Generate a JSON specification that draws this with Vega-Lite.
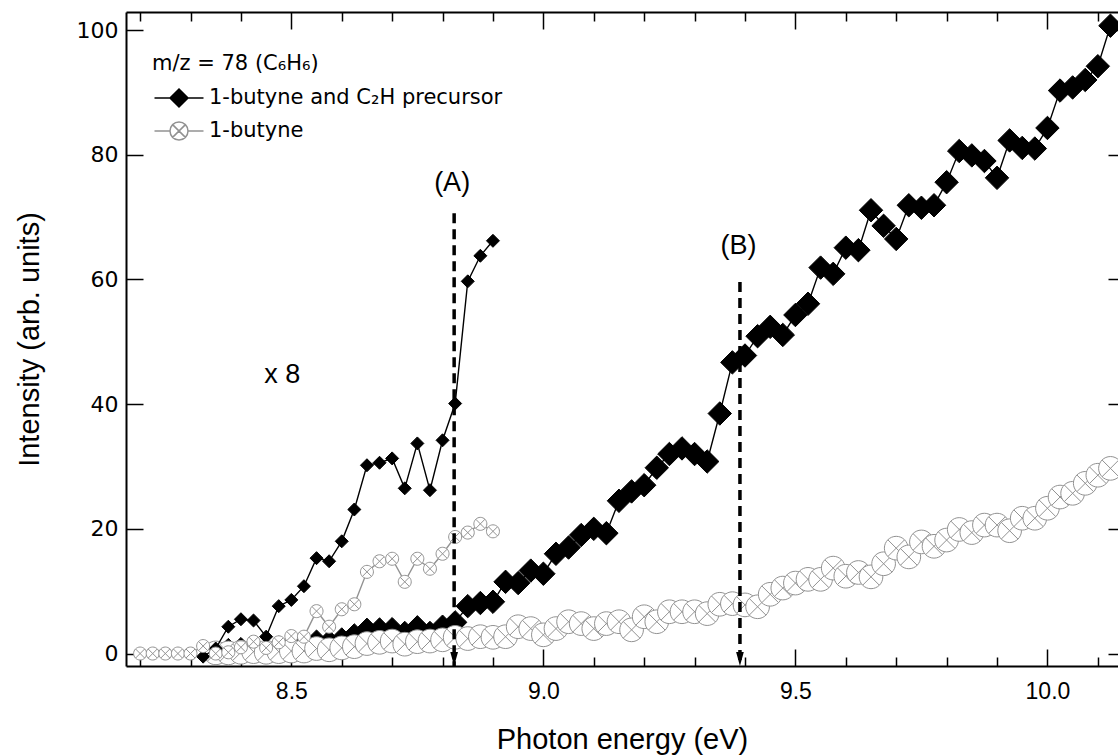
{
  "$schema": "https://vega.github.io/schema/vega-lite/v6.json",
  "width": 992,
  "height": 654,
  "autosize": {"type": "none"},
  "padding": {"left": 126, "top": 12, "right": 0, "bottom": 90},
  "background": "white",
  "config": {"view": {"stroke": null}, "axis": {"grid": false}, "legend": {"disable": true}},
  "datasets": {
    "main": [
      {"energy": 8.35, "intensity": 0.1, "series": "1-butyne and C₂H precursor"},
      {"energy": 8.375, "intensity": 0.55, "series": "1-butyne and C₂H precursor"},
      {"energy": 8.4, "intensity": 0.7, "series": "1-butyne and C₂H precursor"},
      {"energy": 8.425, "intensity": 0.65, "series": "1-butyne and C₂H precursor"},
      {"energy": 8.45, "intensity": 0.35, "series": "1-butyne and C₂H precursor"},
      {"energy": 8.475, "intensity": 0.95, "series": "1-butyne and C₂H precursor"},
      {"energy": 8.5, "intensity": 1.1, "series": "1-butyne and C₂H precursor"},
      {"energy": 8.525, "intensity": 1.35, "series": "1-butyne and C₂H precursor"},
      {"energy": 8.55, "intensity": 1.9, "series": "1-butyne and C₂H precursor"},
      {"energy": 8.575, "intensity": 1.85, "series": "1-butyne and C₂H precursor"},
      {"energy": 8.6, "intensity": 2.25, "series": "1-butyne and C₂H precursor"},
      {"energy": 8.625, "intensity": 2.9, "series": "1-butyne and C₂H precursor"},
      {"energy": 8.65, "intensity": 3.8, "series": "1-butyne and C₂H precursor"},
      {"energy": 8.675, "intensity": 3.85, "series": "1-butyne and C₂H precursor"},
      {"energy": 8.7, "intensity": 3.9, "series": "1-butyne and C₂H precursor"},
      {"energy": 8.725, "intensity": 3.3, "series": "1-butyne and C₂H precursor"},
      {"energy": 8.75, "intensity": 4.2, "series": "1-butyne and C₂H precursor"},
      {"energy": 8.775, "intensity": 3.3, "series": "1-butyne and C₂H precursor"},
      {"energy": 8.8, "intensity": 4.3, "series": "1-butyne and C₂H precursor"},
      {"energy": 8.825, "intensity": 5.0, "series": "1-butyne and C₂H precursor"},
      {"energy": 8.85, "intensity": 7.6, "series": "1-butyne and C₂H precursor"},
      {"energy": 8.875, "intensity": 8.1, "series": "1-butyne and C₂H precursor"},
      {"energy": 8.9, "intensity": 8.3, "series": "1-butyne and C₂H precursor"},
      {"energy": 8.925, "intensity": 11.5, "series": "1-butyne and C₂H precursor"},
      {"energy": 8.95, "intensity": 11.3, "series": "1-butyne and C₂H precursor"},
      {"energy": 8.975, "intensity": 13.3, "series": "1-butyne and C₂H precursor"},
      {"energy": 9.0, "intensity": 12.8, "series": "1-butyne and C₂H precursor"},
      {"energy": 9.025, "intensity": 16.0, "series": "1-butyne and C₂H precursor"},
      {"energy": 9.05, "intensity": 17.0, "series": "1-butyne and C₂H precursor"},
      {"energy": 9.075, "intensity": 19.0, "series": "1-butyne and C₂H precursor"},
      {"energy": 9.1, "intensity": 20.0, "series": "1-butyne and C₂H precursor"},
      {"energy": 9.125, "intensity": 19.3, "series": "1-butyne and C₂H precursor"},
      {"energy": 9.15, "intensity": 24.5, "series": "1-butyne and C₂H precursor"},
      {"energy": 9.175, "intensity": 26.0, "series": "1-butyne and C₂H precursor"},
      {"energy": 9.2, "intensity": 27.0, "series": "1-butyne and C₂H precursor"},
      {"energy": 9.225, "intensity": 29.8, "series": "1-butyne and C₂H precursor"},
      {"energy": 9.25, "intensity": 32.0, "series": "1-butyne and C₂H precursor"},
      {"energy": 9.275, "intensity": 32.9, "series": "1-butyne and C₂H precursor"},
      {"energy": 9.3, "intensity": 32.0, "series": "1-butyne and C₂H precursor"},
      {"energy": 9.325, "intensity": 30.8, "series": "1-butyne and C₂H precursor"},
      {"energy": 9.35, "intensity": 38.5, "series": "1-butyne and C₂H precursor"},
      {"energy": 9.375, "intensity": 46.7, "series": "1-butyne and C₂H precursor"},
      {"energy": 9.4, "intensity": 47.8, "series": "1-butyne and C₂H precursor"},
      {"energy": 9.425, "intensity": 50.9, "series": "1-butyne and C₂H precursor"},
      {"energy": 9.45, "intensity": 52.4, "series": "1-butyne and C₂H precursor"},
      {"energy": 9.475, "intensity": 51.1, "series": "1-butyne and C₂H precursor"},
      {"energy": 9.5, "intensity": 54.3, "series": "1-butyne and C₂H precursor"},
      {"energy": 9.525, "intensity": 56.1, "series": "1-butyne and C₂H precursor"},
      {"energy": 9.55, "intensity": 61.9, "series": "1-butyne and C₂H precursor"},
      {"energy": 9.575, "intensity": 60.9, "series": "1-butyne and C₂H precursor"},
      {"energy": 9.6, "intensity": 65.1, "series": "1-butyne and C₂H precursor"},
      {"energy": 9.625, "intensity": 64.7, "series": "1-butyne and C₂H precursor"},
      {"energy": 9.65, "intensity": 71.1, "series": "1-butyne and C₂H precursor"},
      {"energy": 9.675, "intensity": 68.6, "series": "1-butyne and C₂H precursor"},
      {"energy": 9.7, "intensity": 66.5, "series": "1-butyne and C₂H precursor"},
      {"energy": 9.725, "intensity": 71.9, "series": "1-butyne and C₂H precursor"},
      {"energy": 9.75, "intensity": 71.5, "series": "1-butyne and C₂H precursor"},
      {"energy": 9.775, "intensity": 71.9, "series": "1-butyne and C₂H precursor"},
      {"energy": 9.8, "intensity": 75.6, "series": "1-butyne and C₂H precursor"},
      {"energy": 9.825, "intensity": 80.6, "series": "1-butyne and C₂H precursor"},
      {"energy": 9.85, "intensity": 79.9, "series": "1-butyne and C₂H precursor"},
      {"energy": 9.875, "intensity": 79.0, "series": "1-butyne and C₂H precursor"},
      {"energy": 9.9, "intensity": 76.3, "series": "1-butyne and C₂H precursor"},
      {"energy": 9.925, "intensity": 82.3, "series": "1-butyne and C₂H precursor"},
      {"energy": 9.95, "intensity": 81.1, "series": "1-butyne and C₂H precursor"},
      {"energy": 9.975, "intensity": 81.0, "series": "1-butyne and C₂H precursor"},
      {"energy": 10.0, "intensity": 84.3, "series": "1-butyne and C₂H precursor"},
      {"energy": 10.025, "intensity": 90.3, "series": "1-butyne and C₂H precursor"},
      {"energy": 10.05, "intensity": 90.8, "series": "1-butyne and C₂H precursor"},
      {"energy": 10.075, "intensity": 92.0, "series": "1-butyne and C₂H precursor"},
      {"energy": 10.1, "intensity": 94.2, "series": "1-butyne and C₂H precursor"},
      {"energy": 10.125, "intensity": 100.7, "series": "1-butyne and C₂H precursor"},
      {"energy": 8.35, "intensity": 0.1, "series": "1-butyne"},
      {"energy": 8.375, "intensity": 0.1, "series": "1-butyne"},
      {"energy": 8.4, "intensity": 0.2, "series": "1-butyne"},
      {"energy": 8.425, "intensity": 0.3, "series": "1-butyne"},
      {"energy": 8.45, "intensity": 0.2, "series": "1-butyne"},
      {"energy": 8.475, "intensity": 0.3, "series": "1-butyne"},
      {"energy": 8.5, "intensity": 0.4, "series": "1-butyne"},
      {"energy": 8.525, "intensity": 0.4, "series": "1-butyne"},
      {"energy": 8.55, "intensity": 0.8, "series": "1-butyne"},
      {"energy": 8.575, "intensity": 0.6, "series": "1-butyne"},
      {"energy": 8.6, "intensity": 0.9, "series": "1-butyne"},
      {"energy": 8.625, "intensity": 1.1, "series": "1-butyne"},
      {"energy": 8.65, "intensity": 1.6, "series": "1-butyne"},
      {"energy": 8.675, "intensity": 1.8, "series": "1-butyne"},
      {"energy": 8.7, "intensity": 2.0, "series": "1-butyne"},
      {"energy": 8.725, "intensity": 1.5, "series": "1-butyne"},
      {"energy": 8.75, "intensity": 1.9, "series": "1-butyne"},
      {"energy": 8.775, "intensity": 2.0, "series": "1-butyne"},
      {"energy": 8.8, "intensity": 2.2, "series": "1-butyne"},
      {"energy": 8.825, "intensity": 2.6, "series": "1-butyne"},
      {"energy": 8.85, "intensity": 2.4, "series": "1-butyne"},
      {"energy": 8.875, "intensity": 2.7, "series": "1-butyne"},
      {"energy": 8.9, "intensity": 2.6, "series": "1-butyne"},
      {"energy": 8.925, "intensity": 2.7, "series": "1-butyne"},
      {"energy": 8.95, "intensity": 4.3, "series": "1-butyne"},
      {"energy": 8.975, "intensity": 4.0, "series": "1-butyne"},
      {"energy": 9.0, "intensity": 3.0, "series": "1-butyne"},
      {"energy": 9.025, "intensity": 4.0, "series": "1-butyne"},
      {"energy": 9.05, "intensity": 5.1, "series": "1-butyne"},
      {"energy": 9.075, "intensity": 4.8, "series": "1-butyne"},
      {"energy": 9.1, "intensity": 4.0, "series": "1-butyne"},
      {"energy": 9.125, "intensity": 4.8, "series": "1-butyne"},
      {"energy": 9.15, "intensity": 5.1, "series": "1-butyne"},
      {"energy": 9.175, "intensity": 3.8, "series": "1-butyne"},
      {"energy": 9.2, "intensity": 5.9, "series": "1-butyne"},
      {"energy": 9.225, "intensity": 5.1, "series": "1-butyne"},
      {"energy": 9.25, "intensity": 6.7, "series": "1-butyne"},
      {"energy": 9.275, "intensity": 6.7, "series": "1-butyne"},
      {"energy": 9.3, "intensity": 6.7, "series": "1-butyne"},
      {"energy": 9.325, "intensity": 6.4, "series": "1-butyne"},
      {"energy": 9.35, "intensity": 7.9, "series": "1-butyne"},
      {"energy": 9.375, "intensity": 8.0, "series": "1-butyne"},
      {"energy": 9.4, "intensity": 7.8, "series": "1-butyne"},
      {"energy": 9.425, "intensity": 7.5, "series": "1-butyne"},
      {"energy": 9.45, "intensity": 9.5, "series": "1-butyne"},
      {"energy": 9.475, "intensity": 10.5, "series": "1-butyne"},
      {"energy": 9.5, "intensity": 11.3, "series": "1-butyne"},
      {"energy": 9.525, "intensity": 11.9, "series": "1-butyne"},
      {"energy": 9.55, "intensity": 11.9, "series": "1-butyne"},
      {"energy": 9.575, "intensity": 13.7, "series": "1-butyne"},
      {"energy": 9.6, "intensity": 12.4, "series": "1-butyne"},
      {"energy": 9.625, "intensity": 13.0, "series": "1-butyne"},
      {"energy": 9.65, "intensity": 12.3, "series": "1-butyne"},
      {"energy": 9.675, "intensity": 14.4, "series": "1-butyne"},
      {"energy": 9.7, "intensity": 16.9, "series": "1-butyne"},
      {"energy": 9.725, "intensity": 15.5, "series": "1-butyne"},
      {"energy": 9.75, "intensity": 17.9, "series": "1-butyne"},
      {"energy": 9.775, "intensity": 17.2, "series": "1-butyne"},
      {"energy": 9.8, "intensity": 18.2, "series": "1-butyne"},
      {"energy": 9.825, "intensity": 19.9, "series": "1-butyne"},
      {"energy": 9.85, "intensity": 19.4, "series": "1-butyne"},
      {"energy": 9.875, "intensity": 20.6, "series": "1-butyne"},
      {"energy": 9.9, "intensity": 20.6, "series": "1-butyne"},
      {"energy": 9.925, "intensity": 19.7, "series": "1-butyne"},
      {"energy": 9.95, "intensity": 21.7, "series": "1-butyne"},
      {"energy": 9.975, "intensity": 21.7, "series": "1-butyne"},
      {"energy": 10.0, "intensity": 23.3, "series": "1-butyne"},
      {"energy": 10.025, "intensity": 25.1, "series": "1-butyne"},
      {"energy": 10.05, "intensity": 25.7, "series": "1-butyne"},
      {"energy": 10.075, "intensity": 27.3, "series": "1-butyne"},
      {"energy": 10.1, "intensity": 28.6, "series": "1-butyne"},
      {"energy": 10.125, "intensity": 29.7, "series": "1-butyne"}
    ],
    "scaled": [
      {"energy": 8.325, "intensity": -0.5, "series": "1-butyne and C₂H precursor"},
      {"energy": 8.35, "intensity": 0.8, "series": "1-butyne and C₂H precursor"},
      {"energy": 8.375, "intensity": 4.3, "series": "1-butyne and C₂H precursor"},
      {"energy": 8.4, "intensity": 5.5, "series": "1-butyne and C₂H precursor"},
      {"energy": 8.425, "intensity": 5.3, "series": "1-butyne and C₂H precursor"},
      {"energy": 8.45, "intensity": 2.7, "series": "1-butyne and C₂H precursor"},
      {"energy": 8.475, "intensity": 7.6, "series": "1-butyne and C₂H precursor"},
      {"energy": 8.5, "intensity": 8.6, "series": "1-butyne and C₂H precursor"},
      {"energy": 8.525, "intensity": 10.8, "series": "1-butyne and C₂H precursor"},
      {"energy": 8.55, "intensity": 15.3, "series": "1-butyne and C₂H precursor"},
      {"energy": 8.575, "intensity": 14.8, "series": "1-butyne and C₂H precursor"},
      {"energy": 8.6, "intensity": 18.0, "series": "1-butyne and C₂H precursor"},
      {"energy": 8.625, "intensity": 23.1, "series": "1-butyne and C₂H precursor"},
      {"energy": 8.65, "intensity": 30.2, "series": "1-butyne and C₂H precursor"},
      {"energy": 8.675, "intensity": 30.6, "series": "1-butyne and C₂H precursor"},
      {"energy": 8.7, "intensity": 31.3, "series": "1-butyne and C₂H precursor"},
      {"energy": 8.725, "intensity": 26.5, "series": "1-butyne and C₂H precursor"},
      {"energy": 8.75, "intensity": 33.7, "series": "1-butyne and C₂H precursor"},
      {"energy": 8.775, "intensity": 26.2, "series": "1-butyne and C₂H precursor"},
      {"energy": 8.8, "intensity": 34.2, "series": "1-butyne and C₂H precursor"},
      {"energy": 8.825, "intensity": 40.1, "series": "1-butyne and C₂H precursor"},
      {"energy": 8.85, "intensity": 59.7, "series": "1-butyne and C₂H precursor"},
      {"energy": 8.875, "intensity": 63.8, "series": "1-butyne and C₂H precursor"},
      {"energy": 8.9, "intensity": 66.2, "series": "1-butyne and C₂H precursor"},
      {"energy": 8.2, "intensity": 0.0, "series": "1-butyne"},
      {"energy": 8.225, "intensity": 0.0, "series": "1-butyne"},
      {"energy": 8.25, "intensity": 0.0, "series": "1-butyne"},
      {"energy": 8.275, "intensity": 0.0, "series": "1-butyne"},
      {"energy": 8.3, "intensity": 0.0, "series": "1-butyne"},
      {"energy": 8.325, "intensity": 1.2, "series": "1-butyne"},
      {"energy": 8.35, "intensity": 0.0, "series": "1-butyne"},
      {"energy": 8.375, "intensity": 0.2, "series": "1-butyne"},
      {"energy": 8.4, "intensity": 1.0, "series": "1-butyne"},
      {"energy": 8.425, "intensity": 1.9, "series": "1-butyne"},
      {"energy": 8.45, "intensity": 0.9, "series": "1-butyne"},
      {"energy": 8.475, "intensity": 1.8, "series": "1-butyne"},
      {"energy": 8.5, "intensity": 2.8, "series": "1-butyne"},
      {"energy": 8.525, "intensity": 2.7, "series": "1-butyne"},
      {"energy": 8.55, "intensity": 6.8, "series": "1-butyne"},
      {"energy": 8.575, "intensity": 4.3, "series": "1-butyne"},
      {"energy": 8.6, "intensity": 7.1, "series": "1-butyne"},
      {"energy": 8.625, "intensity": 7.9, "series": "1-butyne"},
      {"energy": 8.65, "intensity": 13.1, "series": "1-butyne"},
      {"energy": 8.675, "intensity": 14.8, "series": "1-butyne"},
      {"energy": 8.7, "intensity": 15.2, "series": "1-butyne"},
      {"energy": 8.725, "intensity": 11.5, "series": "1-butyne"},
      {"energy": 8.75, "intensity": 15.2, "series": "1-butyne"},
      {"energy": 8.775, "intensity": 13.6, "series": "1-butyne"},
      {"energy": 8.8, "intensity": 16.0, "series": "1-butyne"},
      {"energy": 8.825, "intensity": 18.7, "series": "1-butyne"},
      {"energy": 8.85, "intensity": 19.4, "series": "1-butyne"},
      {"energy": 8.875, "intensity": 20.8, "series": "1-butyne"},
      {"energy": 8.9, "intensity": 19.6, "series": "1-butyne"}
    ],
    "arrows": [
      {"energy": 8.823, "start": 70.6, "tip": -2.0},
      {"energy": 9.39, "start": 59.6, "tip": -2.0}
    ],
    "notes": [
      {"energy": 8.819, "intensity": 75.4, "label": "(A)"},
      {"energy": 9.387, "intensity": 65.4, "label": "(B)"},
      {"energy": 8.482, "intensity": 44.7, "label": "x 8"}
    ]
  },
  "layer": [
    {
      "data": {"name": "main"},
      "mark": {"type": "line", "strokeWidth": 1.4},
      "encoding": {
        "x": {
          "field": "energy", "type": "quantitative",
          "scale": {"domain": [8.172, 10.14], "nice": false, "zero": false},
          "axis": {
            "orient": "bottom",
            "title": "Photon energy (eV)",
            "values": [8.2, 8.3, 8.4, 8.5, 8.6, 8.7, 8.8, 8.9, 9.0, 9.1, 9.2, 9.3, 9.4, 9.5, 9.6, 9.7, 9.8, 9.9, 10.0, 10.1],
            "tickSize": {"condition": {"test": "abs(datum.value * 2 - round(datum.value * 2)) < 0.01", "value": -17}, "value": -9},
            "labelExpr": "abs(datum.value * 2 - round(datum.value * 2)) < 0.01 ? format(datum.value, '.1f') : ''",
            "labelPadding": 31,
            "labelFont": "Liberation Sans",
            "labelFontSize": 23,
            "labelColor": "#000000",
            "labelOverlap": false,
            "labelFlush": false,
            "labelBound": false,
            "tickColor": "#000000",
            "tickWidth": 1.5,
            "domainColor": "#000000",
            "domainWidth": 2,
            "titleFont": "Liberation Sans",
            "titleFontSize": 29,
            "titleFontWeight": "normal",
            "titleColor": "#000000",
            "titlePadding": 14,
            "grid": false
          }
        },
        "y": {
          "field": "intensity", "type": "quantitative",
          "scale": {"domain": [-2.0, 102.9], "nice": false, "zero": false},
          "axis": {
            "orient": "left",
            "title": "Intensity (arb. units)",
            "values": [0, 20, 40, 60, 80, 100],
            "tickSize": -17,
            "labelPadding": 25,
            "labelFont": "DejaVu Sans",
            "labelFontSize": 22,
            "labelColor": "#000000",
            "labelOverlap": false,
            "labelFlush": false,
            "tickColor": "#000000",
            "tickWidth": 1.5,
            "domainColor": "#000000",
            "domainWidth": 2,
            "titleFont": "Liberation Sans",
            "titleFontSize": 29,
            "titleFontWeight": "normal",
            "titleColor": "#000000",
            "titlePadding": 32,
            "grid": false
          }
        },
        "stroke": {
          "field": "series", "type": "nominal",
          "scale": {"domain": ["1-butyne and C₂H precursor", "1-butyne"], "range": ["#000000", "#929292"]}
        }
      }
    },
    {
      "data": {"name": "main"},
      "transform": [{"filter": {"field": "series", "equal": "1-butyne and C₂H precursor"}}],
      "mark": {"type": "point", "shape": "M0,-1L1,0L0,1L-1,0Z", "size": 550, "opacity": 1, "strokeWidth": 1, "fill": "#000000", "stroke": "#000000"},
      "encoding": {
        "x": {
          "field": "energy", "type": "quantitative",
          "axis": {
            "orient": "top",
            "title": null,
            "labels": false,
            "values": [8.2, 8.3, 8.4, 8.5, 8.6, 8.7, 8.8, 8.9, 9.0, 9.1, 9.2, 9.3, 9.4, 9.5, 9.6, 9.7, 9.8, 9.9, 10.0, 10.1],
            "tickSize": {"condition": {"test": "abs(datum.value * 2 - round(datum.value * 2)) < 0.01", "value": -17}, "value": -9},
            "tickColor": "#000000",
            "tickWidth": 1.5,
            "domainColor": "#000000",
            "domainWidth": 2,
            "grid": false
          }
        },
        "y": {
          "field": "intensity", "type": "quantitative",
          "axis": {
            "orient": "right",
            "title": null,
            "labels": false,
            "values": [0, 20, 40, 60, 80, 100],
            "tickSize": -17,
            "offset": 7,
            "domain": false,
            "tickColor": "#000000",
            "tickWidth": 1.5,
            "grid": false
          }
        }
      }
    },
    {
      "data": {"name": "main"},
      "transform": [{"filter": {"field": "series", "equal": "1-butyne"}}],
      "mark": {"type": "point", "shape": "M1,0A1,1,0,1,1,-1,0A1,1,0,1,1,1,0ZM-0.707,-0.707L0.707,0.707M-0.707,0.707L0.707,-0.707", "size": 560, "opacity": 1, "strokeWidth": 1, "fill": "#ffffff", "stroke": "#929292"},
      "encoding": {
        "x": {"field": "energy", "type": "quantitative", "axis": null},
        "y": {"field": "intensity", "type": "quantitative", "axis": null}
      }
    },
    {
      "data": {"name": "scaled"},
      "mark": {"type": "line", "strokeWidth": 1.4},
      "encoding": {
        "x": {"field": "energy", "type": "quantitative", "axis": null},
        "y": {"field": "intensity", "type": "quantitative", "axis": null},
        "stroke": {"field": "series", "type": "nominal"}
      }
    },
    {
      "data": {"name": "scaled"},
      "transform": [{"filter": {"field": "series", "equal": "1-butyne and C₂H precursor"}}],
      "mark": {"type": "point", "shape": "M0,-1L1,0L0,1L-1,0Z", "size": 169, "opacity": 1, "strokeWidth": 1, "fill": "#000000", "stroke": "#000000"},
      "encoding": {
        "x": {"field": "energy", "type": "quantitative", "axis": null},
        "y": {"field": "intensity", "type": "quantitative", "axis": null}
      }
    },
    {
      "data": {"name": "scaled"},
      "transform": [{"filter": {"field": "series", "equal": "1-butyne"}}],
      "mark": {"type": "point", "shape": "M1,0A1,1,0,1,1,-1,0A1,1,0,1,1,1,0ZM-0.707,-0.707L0.707,0.707M-0.707,0.707L0.707,-0.707", "size": 169, "opacity": 1, "strokeWidth": 1, "fill": "#ffffff", "stroke": "#929292"},
      "encoding": {
        "x": {"field": "energy", "type": "quantitative", "axis": null},
        "y": {"field": "intensity", "type": "quantitative", "axis": null}
      }
    },
    {
      "data": {"name": "main"},
      "mark": {"type": "point", "opacity": 0, "size": 1},
      "encoding": {
        "x": {"field": "energy", "type": "quantitative", "axis": null},
        "y": {"field": "intensity", "type": "quantitative", "axis": null},
        "shape": {
          "field": "series", "type": "nominal",
          "scale": {
            "domain": ["1-butyne and C₂H precursor", "1-butyne"],
            "range": [
              "M-2.45,0L2.45,0M0,-0.9L0.9,0L0,0.9L-0.9,0Z",
              "M-2.45,0L-0.9,0M0.9,0L2.45,0M0.9,0A0.9,0.9,0,1,1,-0.9,0A0.9,0.9,0,1,1,0.9,0ZM-0.64,-0.64L0.64,0.64M-0.64,0.64L0.64,-0.64"
            ]
          },
          "legend": {
            "title": "m/z = 78 (C₆H₆)",
            "orient": "none",
            "legendX": 26,
            "legendY": 41,
            "padding": 0,
            "titleFont": "DejaVu Sans",
            "titleFontSize": 21,
            "titleFontWeight": "normal",
            "titleColor": "#000000",
            "titlePadding": 13,
            "labelFont": "DejaVu Sans",
            "labelFontSize": 21,
            "labelColor": "#000000",
            "labelOffset": 19,
            "labelLimit": 500,
            "symbolSize": 400,
            "symbolOffset": 16,
            "symbolOpacity": 1,
            "symbolStrokeWidth": 1.5,
            "rowPadding": 9
          }
        },
        "fill": {
          "field": "series", "type": "nominal",
          "scale": {"domain": ["1-butyne and C₂H precursor", "1-butyne"], "range": ["#000000", "#ffffff"]}
        },
        "stroke": {"field": "series", "type": "nominal"}
      }
    },
    {
      "data": {"name": "arrows"},
      "mark": {"type": "rule", "strokeWidth": 3.5, "strokeDash": [10, 6], "color": "#000000"},
      "encoding": {
        "x": {"field": "energy", "type": "quantitative", "axis": null},
        "y": {"field": "start", "type": "quantitative", "axis": null},
        "y2": {"field": "tip"}
      }
    },
    {
      "data": {"name": "arrows"},
      "mark": {"type": "point", "shape": "M-0.55,-1L0.55,-1L0,1Z", "size": 196, "filled": true, "color": "#000000", "opacity": 1, "yOffset": -7},
      "encoding": {
        "x": {"field": "energy", "type": "quantitative", "axis": null},
        "y": {"field": "tip", "type": "quantitative", "axis": null}
      }
    },
    {
      "data": {"name": "notes"},
      "mark": {"type": "text", "font": "Liberation Sans", "fontSize": 27, "color": "#000000", "align": "center", "baseline": "middle"},
      "encoding": {
        "x": {"field": "energy", "type": "quantitative", "axis": null},
        "y": {"field": "intensity", "type": "quantitative", "axis": null},
        "text": {"field": "label"}
      }
    }
  ]
}
